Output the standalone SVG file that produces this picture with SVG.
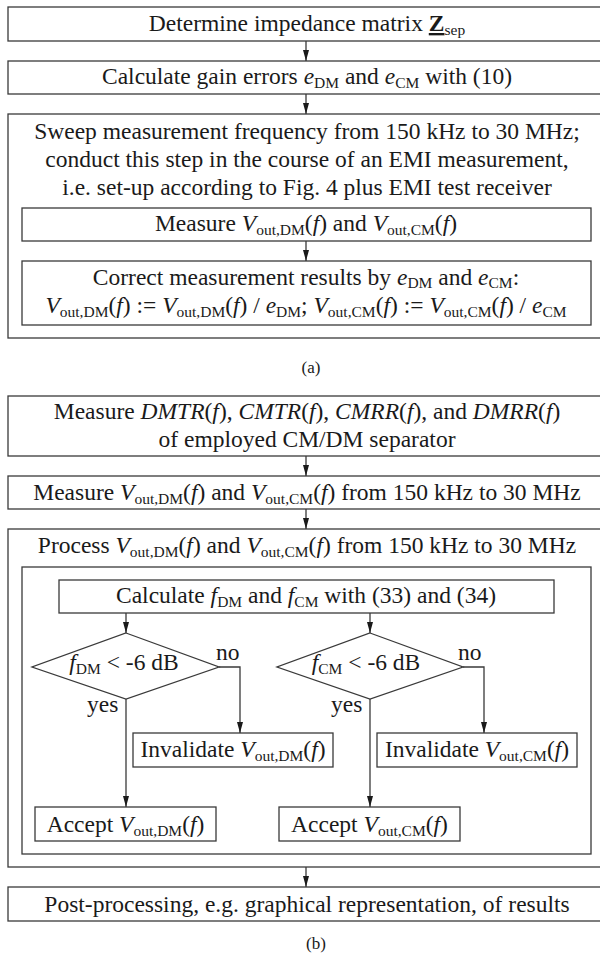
<svg xmlns="http://www.w3.org/2000/svg" width="600" height="953" viewBox="0 0 600 953">
<style>
.b{fill:#fff;stroke:#3a3a3a;stroke-width:1.3}
.c{fill:none;stroke:#3a3a3a;stroke-width:1.3}
text{font-family:"Liberation Serif","Times New Roman",serif;font-size:23.5px;fill:#1a1a1a}
.m{text-anchor:middle}
.i{font-style:italic}
.s{font-size:15.5px}
.l{font-size:17px}
</style>
<defs>
<marker id="a" markerUnits="userSpaceOnUse" markerWidth="11" markerHeight="6" refX="11" refY="3" orient="auto" viewBox="0 0 11 6">
<path d="M0,0 L11,3 L0,6 z" fill="#1a1a1a"/>
</marker>
</defs>

<g id="a1">
<rect class="b" x="8" y="7" width="600" height="34"/>
<text class="m" x="307" y="31">Determine impedance matrix <tspan font-weight="bold" text-decoration="underline">Z</tspan><tspan class="s" dy="4">sep</tspan></text>
</g>
<g id="a2">
<rect class="b" x="8" y="61" width="600" height="33"/>
<text class="m" x="307" y="84">Calculate gain errors <tspan class="i">e</tspan><tspan class="s" dy="4">DM</tspan><tspan dy="-4"> and </tspan><tspan class="i">e</tspan><tspan class="s" dy="4">CM</tspan><tspan dy="-4"> with (10)</tspan></text>
</g>
<g id="a3">
<rect class="b" x="8" y="114" width="600" height="224"/>
<text class="m" x="307" y="139">Sweep measurement frequency from 150 kHz to 30 MHz;</text>
<text class="m" x="307" y="167">conduct this step in the course of an EMI measurement,</text>
<text class="m" x="307" y="195">i.e. set-up according to Fig. 4 plus EMI test receiver</text>
</g>
<g id="a3-measure">
<rect class="b" x="22" y="208" width="569" height="33"/>
<text class="m" x="306" y="231">Measure <tspan class="i">V</tspan><tspan class="s" dy="4">out,DM</tspan><tspan dy="-4">(</tspan><tspan class="i">f</tspan><tspan>) and </tspan><tspan class="i">V</tspan><tspan class="s" dy="4">out,CM</tspan><tspan dy="-4">(</tspan><tspan class="i">f</tspan><tspan>)</tspan></text>
</g>
<g id="a3-correct">
<rect class="b" x="22" y="261" width="569" height="64"/>
<text class="m" x="306" y="285">Correct measurement results by <tspan class="i">e</tspan><tspan class="s" dy="3">DM</tspan><tspan dy="-3"> and </tspan><tspan class="i">e</tspan><tspan class="s" dy="3">CM</tspan><tspan dy="-3">:</tspan></text>
<text class="m" x="306" y="313"><tspan class="i">V</tspan><tspan class="s" dy="4">out,DM</tspan><tspan dy="-4">(</tspan><tspan class="i">f</tspan><tspan>) := </tspan><tspan class="i">V</tspan><tspan class="s" dy="4">out,DM</tspan><tspan dy="-4">(</tspan><tspan class="i">f</tspan><tspan>) / </tspan><tspan class="i">e</tspan><tspan class="s" dy="4">DM</tspan><tspan dy="-4">; </tspan><tspan class="i">V</tspan><tspan class="s" dy="4">out,CM</tspan><tspan dy="-4">(</tspan><tspan class="i">f</tspan><tspan>) := </tspan><tspan class="i">V</tspan><tspan class="s" dy="4">out,CM</tspan><tspan dy="-4">(</tspan><tspan class="i">f</tspan><tspan>) / </tspan><tspan class="i">e</tspan><tspan class="s" dy="4">CM</tspan></text>
</g>
<text class="m l" x="311" y="373">(a)</text>

<g id="b1">
<rect class="b" x="8" y="396" width="600" height="60"/>
<text class="m" x="307" y="419">Measure <tspan class="i">DMTR</tspan>(<tspan class="i">f</tspan>), <tspan class="i">CMTR</tspan>(<tspan class="i">f</tspan>), <tspan class="i">CMRR</tspan>(<tspan class="i">f</tspan>), and <tspan class="i">DMRR</tspan>(<tspan class="i">f</tspan>)</text>
<text class="m" x="307" y="447">of employed CM/DM separator</text>
</g>
<g id="b2">
<rect class="b" x="8" y="476" width="600" height="33"/>
<text class="m" x="307" y="500">Measure <tspan class="i">V</tspan><tspan class="s" dy="4">out,DM</tspan><tspan dy="-4">(</tspan><tspan class="i">f</tspan><tspan>) and </tspan><tspan class="i">V</tspan><tspan class="s" dy="4">out,CM</tspan><tspan dy="-4">(</tspan><tspan class="i">f</tspan><tspan>) from 150 kHz to 30 MHz</tspan></text>
</g>
<g id="b3">
<rect class="b" x="8" y="529" width="600" height="338"/>
<text class="m" x="307" y="553">Process <tspan class="i">V</tspan><tspan class="s" dy="4">out,DM</tspan><tspan dy="-4">(</tspan><tspan class="i">f</tspan><tspan>) and </tspan><tspan class="i">V</tspan><tspan class="s" dy="4">out,CM</tspan><tspan dy="-4">(</tspan><tspan class="i">f</tspan><tspan>) from 150 kHz to 30 MHz</tspan></text>
</g>
<g id="b3-inner">
<rect class="c" x="22" y="567" width="569" height="287"/>
</g>
<g id="calc">
<rect class="b" x="59" y="580" width="495" height="33"/>
<text class="m" x="306" y="603">Calculate <tspan class="i">f</tspan><tspan class="s" dy="4">DM</tspan><tspan dy="-4"> and </tspan><tspan class="i">f</tspan><tspan class="s" dy="4">CM</tspan><tspan dy="-4"> with (33) and (34)</tspan></text>
</g>
<g id="dec-dm">
<polygon class="b" points="126,633 219,667 126,699 32,667"/>
<text class="m" x="124" y="670"><tspan class="i">f</tspan><tspan class="s" dy="4">DM</tspan><tspan dy="-4"> &lt; -6 dB</tspan></text>
</g>
<g id="dec-cm">
<polygon class="b" points="370,633 463,667 370,699 277,667"/>
<text class="m" x="366" y="670"><tspan class="i">f</tspan><tspan class="s" dy="4">CM</tspan><tspan dy="-4"> &lt; -6 dB</tspan></text>
</g>
<g id="labels">
<text x="216" y="660">no</text>
<text x="458" y="660">no</text>
<text x="87" y="712">yes</text>
<text x="331" y="712">yes</text>
</g>
<g id="inv-dm">
<rect class="b" x="133" y="733" width="200" height="34"/>
<text class="m" x="233" y="757">Invalidate <tspan class="i">V</tspan><tspan class="s" dy="4">out,DM</tspan><tspan dy="-4">(</tspan><tspan class="i">f</tspan><tspan>)</tspan></text>
</g>
<g id="inv-cm">
<rect class="b" x="377" y="733" width="200" height="34"/>
<text class="m" x="477" y="757">Invalidate <tspan class="i">V</tspan><tspan class="s" dy="4">out,CM</tspan><tspan dy="-4">(</tspan><tspan class="i">f</tspan><tspan>)</tspan></text>
</g>
<g id="acc-dm">
<rect class="b" x="35" y="807" width="181" height="34"/>
<text class="m" x="125.5" y="832">Accept <tspan class="i">V</tspan><tspan class="s" dy="4">out,DM</tspan><tspan dy="-4">(</tspan><tspan class="i">f</tspan><tspan>)</tspan></text>
</g>
<g id="acc-cm">
<rect class="b" x="279" y="807" width="181" height="34"/>
<text class="m" x="369.5" y="832">Accept <tspan class="i">V</tspan><tspan class="s" dy="4">out,CM</tspan><tspan dy="-4">(</tspan><tspan class="i">f</tspan><tspan>)</tspan></text>
</g>
<g id="b4">
<rect class="b" x="8" y="887" width="600" height="34"/>
<text class="m" x="307" y="912">Post-processing, e.g. graphical representation, of results</text>
</g>
<text class="m l" x="316" y="949">(b)</text>

<g id="connectors">
<line class="c" x1="306" y1="41" x2="306" y2="61" marker-end="url(#a)"/>
<line class="c" x1="306" y1="94" x2="306" y2="114" marker-end="url(#a)"/>
<line class="c" x1="306" y1="241" x2="306" y2="261" marker-end="url(#a)"/>
<line class="c" x1="306" y1="456" x2="306" y2="476" marker-end="url(#a)"/>
<line class="c" x1="306" y1="509" x2="306" y2="529" marker-end="url(#a)"/>
<line class="c" x1="126" y1="613" x2="126" y2="633" marker-end="url(#a)"/>
<line class="c" x1="370" y1="613" x2="370" y2="633" marker-end="url(#a)"/>
<polyline class="c" points="219,667 240,667 240,733" marker-end="url(#a)"/>
<polyline class="c" points="463,667 484,667 484,733" marker-end="url(#a)"/>
<line class="c" x1="126" y1="699" x2="126" y2="807" marker-end="url(#a)"/>
<line class="c" x1="370" y1="699" x2="370" y2="807" marker-end="url(#a)"/>
<line class="c" x1="306" y1="867" x2="306" y2="887" marker-end="url(#a)"/>
</g>
</svg>
